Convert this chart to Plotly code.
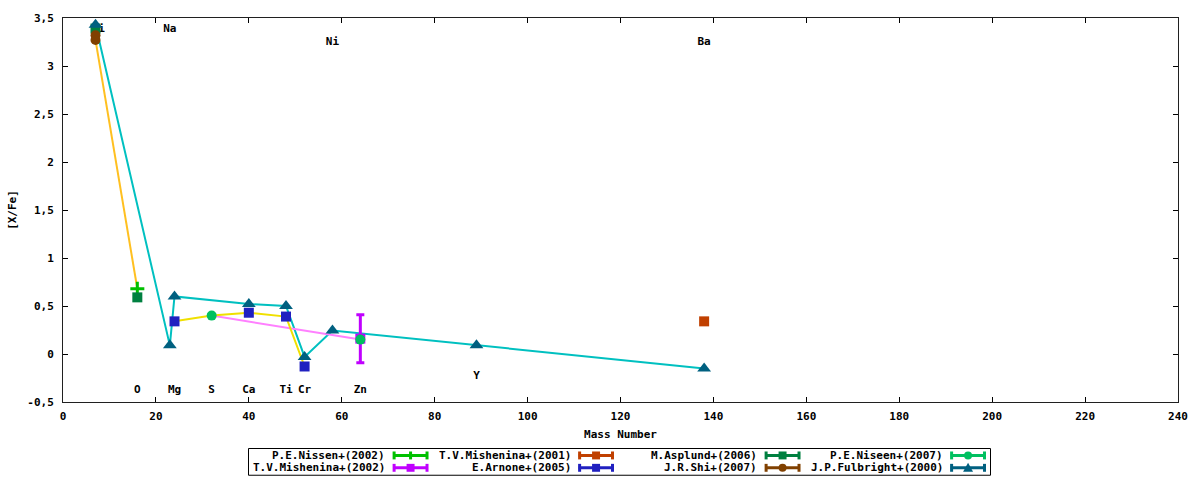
import plotly.graph_objects as go

# ---------------- data ----------------
# measured series (mass number, [X/Fe])
nissen2002_x = [16]
nissen2002_y = [0.68]

mishenina2002_x = [64]
mishenina2002_y = [0.16]
mishenina2002_err = [0.25]

mishenina2001_x = [138]
mishenina2001_y = [0.34]

arnone2005_x = [24, 40, 48, 52]
arnone2005_y = [0.34, 0.43, 0.39, -0.13]

asplund2006_x = [7, 16]
asplund2006_y = [3.39, 0.59]

shi2007_x = [7, 7]
shi2007_y = [3.32, 3.27]

niseen2007_x = [32, 64]
niseen2007_y = [0.40, 0.15]

fulbright2000_x = [7, 23, 24, 40, 48, 52, 58, 89, 138]
fulbright2000_y = [3.43, 0.09, 0.60, 0.52, 0.50, -0.03, 0.245, 0.09, -0.15]

# connecting lines (untitled)
line_orange_x = [7, 16]
line_orange_y = [3.27, 0.68]
line_yellow_x = [24, 32, 40, 48, 52]
line_yellow_y = [0.34, 0.40, 0.43, 0.39, -0.13]
line_pink_x = [32, 64]
line_pink_y = [0.40, 0.15]

# element labels
label_text = ["Li", "Na", "Ni", "Ba", "O", "Mg", "S", "Ca", "Ti", "Cr", "Zn", "Y"]
label_x = [7.6, 23, 58, 138, 16, 24, 32, 40, 48, 52, 64, 89]
label_y = [3.38, 3.38, 3.25, 3.25, -0.38, -0.38, -0.38, -0.38, -0.38, -0.38, -0.38, -0.23]

# axis ticks
x_ticks = [0, 20, 40, 60, 80, 100, 120, 140, 160, 180, 200, 220, 240]
y_ticks = [-0.5, 0, 0.5, 1, 1.5, 2, 2.5, 3, 3.5]
y_ticklabels = ["-0,5", "0", "0,5", "1", "1,5", "2", "2,5", "3", "3,5"]

FONT = "DejaVu Sans Mono"

# series definitions in plot (and legend column-major) order
series = [
    ("P.E.Nissen+(2002)", nissen2002_x, nissen2002_y, None, "#00c000", "cross-thin"),
    ("T.V.Mishenina+(2002)", mishenina2002_x, mishenina2002_y, mishenina2002_err, "#c000ff", "square"),
    ("T.V.Mishenina+(2001)", mishenina2001_x, mishenina2001_y, None, "#c04000", "square"),
    ("E.Arnone+(2005)", arnone2005_x, arnone2005_y, None, "#2020c0", "square"),
    ("M.Asplund+(2006)", asplund2006_x, asplund2006_y, None, "#008040", "square"),
    ("J.R.Shi+(2007)", shi2007_x, shi2007_y, None, "#804000", "circle"),
    ("P.E.Niseen+(2007)", niseen2007_x, niseen2007_y, None, "#00c060", "circle"),
    ("J.P.Fulbright+(2000)", fulbright2000_x, fulbright2000_y, None, "#006080", "triangle-up"),
]

fig = go.Figure()

# element labels (drawn first so markers sit on top)
fig.add_trace(go.Scatter(
    x=label_x, y=label_y, text=label_text, mode="text",
    textfont=dict(family=FONT, size=11, color="black", weight="bold"),
    showlegend=False, hoverinfo="skip"))

# connecting lines
for lx, ly, col in [(line_orange_x, line_orange_y, "#ffc020"),
                    (fulbright2000_x, fulbright2000_y, "#00c0c0"),
                    (line_pink_x, line_pink_y, "#ff80ff"),
                    (line_yellow_x, line_yellow_y, "#f0e000")]:
    fig.add_trace(go.Scatter(x=lx, y=ly, mode="lines",
                             line=dict(color=col, width=2),
                             showlegend=False, hoverinfo="skip"))

sizes = {"cross-thin": 10, "square": 10, "circle": 10, "triangle-up": 12}
for name, sx, sy, err, col, sym in series:
    kw = {}
    if err is not None:
        kw["error_y"] = dict(type="data", array=err, visible=True,
                             color=col, thickness=3, width=4)
    mline = dict(width=3, color=col) if sym == "cross-thin" else dict(width=0)
    fig.add_trace(go.Scatter(
        x=sx, y=sy, mode="markers", name=name,
        marker=dict(color=col, symbol=sym, size=sizes[sym], line=mline),
        showlegend=False, **kw))

# ---------------- manual gnuplot-style legend ----------------
L, R, T, B = 62, 20, 14, 78
W, H = 1200, 480
PW, PH = W - L - R, H - T - B


def px(xp):
    return (xp - L) / PW


def py(yp):
    return (H - B - yp) / PH


shapes = []
annotations = []
shapes.append(dict(type="rect", xref="paper", yref="paper",
                   x0=px(248), x1=px(992), y0=py(449), y1=py(476),
                   line=dict(color="black", width=1), fillcolor="white", layer="below"))
col_text_right = [387, 573, 760, 946]
row_y = [456, 468.5]
for i, (name, sx, sy, err, col, sym) in enumerate(series):
    c, r = i // 2, i % 2
    tr = col_text_right[c]
    yy = row_y[r]
    annotations.append(dict(xref="paper", yref="paper", x=px(tr), y=py(yy),
                            text=name, showarrow=False, xanchor="right", yanchor="middle",
                            font=dict(family=FONT, size=11, color="black", weight="bold")))
    s0, s1 = tr + 6, tr + 41
    shapes.append(dict(type="line", xref="paper", yref="paper",
                       x0=px(s0), x1=px(s1), y0=py(yy), y1=py(yy),
                       line=dict(color=col, width=3)))
    for sxp in (s0 + 1, s1 - 1):
        shapes.append(dict(type="line", xref="paper", yref="paper",
                           x0=px(sxp), x1=px(sxp), y0=py(yy - 4), y1=py(yy + 4),
                           line=dict(color=col, width=3)))
    m = (s0 + s1) / 2
    if sym == "square":
        shapes.append(dict(type="rect", xref="paper", yref="paper",
                           x0=px(m - 4), x1=px(m + 4), y0=py(yy - 4), y1=py(yy + 4),
                           fillcolor=col, line=dict(width=0)))
    elif sym == "circle":
        shapes.append(dict(type="circle", xref="paper", yref="paper",
                           x0=px(m - 4), x1=px(m + 4), y0=py(yy - 4), y1=py(yy + 4),
                           fillcolor=col, line=dict(width=0)))
    elif sym == "triangle-up":
        path = "M {} {} L {} {} L {} {} Z".format(px(m - 5), py(yy + 4), px(m + 5), py(yy + 4), px(m), py(yy - 5))
        shapes.append(dict(type="path", xref="paper", yref="paper", path=path,
                           fillcolor=col, line=dict(width=0)))
    elif sym == "cross-thin":
        shapes.append(dict(type="line", xref="paper", yref="paper",
                           x0=px(m), x1=px(m), y0=py(yy - 4), y1=py(yy + 4),
                           line=dict(color=col, width=3)))

axis_common = dict(showline=True, linecolor="#202020", linewidth=1, mirror="ticks",
                   ticks="inside", ticklen=5, tickcolor="black", showgrid=False,
                   zeroline=False,
                   tickfont=dict(family=FONT, size=11, color="black", weight="bold"))

fig.update_layout(
    width=W, height=H,
    margin=dict(l=L, r=R, t=T, b=B),
    paper_bgcolor="white", plot_bgcolor="white",
    showlegend=False,
    shapes=shapes, annotations=annotations,
    xaxis=dict(range=[0, 240], tickvals=x_ticks, ticktext=[str(v) for v in x_ticks],
               title=dict(text="Mass Number", standoff=8,
                          font=dict(family=FONT, size=11, color="black", weight="bold")),
               ticklabelstandoff=4, **axis_common),
    yaxis=dict(range=[-0.5, 3.5], tickvals=y_ticks, ticktext=y_ticklabels,
               title=dict(text="[X/Fe]", standoff=8,
                          font=dict(family=FONT, size=11, color="black", weight="bold")),
               ticklabelstandoff=6, **axis_common),
)

fig.write_html("out.html", config={"displayModeBar": False},
               post_script="document.body.style.margin='0px';document.body.style.overflow='hidden';")
